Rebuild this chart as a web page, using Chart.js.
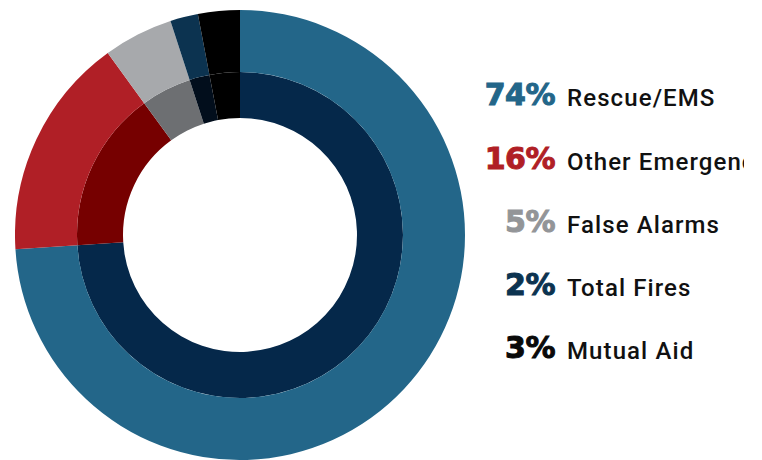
<!DOCTYPE html>
<html>
<head>
<meta charset="utf-8">
<script src="https://cdn.jsdelivr.net/npm/chart.js@4/dist/chart.umd.min.js"></script>
<style>
  html, body { margin: 0; padding: 0; background: #fff; }
  body { width: 762px; height: 460px; position: relative; overflow: hidden; }
  #wrap { position: absolute; left: 15px; top: 10px; width: 450px; height: 450px; }
  #legend { position: absolute; left: 470px; top: 0; width: 274px; height: 460px; overflow: hidden; }
  .row { position: absolute; left: 0; width: 275px; white-space: nowrap; height: 40px; }
  .pct { position: absolute; right: 190px; bottom: 0; font-family: "DejaVu Sans", sans-serif; font-weight: bold; font-size: 30px; line-height: 30px; letter-spacing: -0.5px; -webkit-text-stroke: 1px currentColor; }
  .lab { position: absolute; left: 97px; bottom: 0; font-family: Roboto, sans-serif; font-weight: 500; font-size: 24px; line-height: 24px; letter-spacing: 1.1px; color: #111; }
</style>
</head>
<body>
<div id="wrap"><canvas id="c"></canvas></div>
<div id="legend"></div>
<script>
const categories = ["Rescue/EMS", "Other Emergencies", "False Alarms", "Total Fires", "Mutual Aid"];
const percentValues = [74, 16, 5, 2, 3];
const outerColors = ["#236689", "#b01f26", "#a7a9ac", "#0c3350", "#000000"];
const innerColors = ["#05284a", "#760000", "#6d6f72", "#020e1c", "#000000"];
const legendColors = ["#236689", "#b01f26", "#939598", "#0c3350", "#0a0a0a"];

new Chart(document.getElementById('c'), {
  type: 'doughnut',
  data: {
    labels: categories,
    datasets: [
      { data: percentValues, backgroundColor: outerColors, borderWidth: 0, weight: 62 },
      { data: percentValues, backgroundColor: innerColors, borderWidth: 0, weight: 46 }
    ]
  },
  options: {
    responsive: true,
    maintainAspectRatio: false,
    animation: false,
    cutout: '52%',
    layout: { padding: 0 },
    plugins: { legend: { display: false }, tooltip: { enabled: false } }
  }
});

const legend = document.getElementById('legend');
const baselines = [107, 171, 234, 297, 360];
categories.forEach((name, i) => {
  const row = document.createElement('div');
  row.className = 'row';
  row.style.top = (baselines[i] - 40 + 3) + 'px';
  const p = document.createElement('span');
  p.className = 'pct';
  p.style.color = legendColors[i];
  p.textContent = percentValues[i] + '%';
  const l = document.createElement('span');
  l.className = 'lab';
  l.textContent = name;
  row.appendChild(p);
  row.appendChild(l);
  legend.appendChild(row);
});
</script>
</body>
</html>
